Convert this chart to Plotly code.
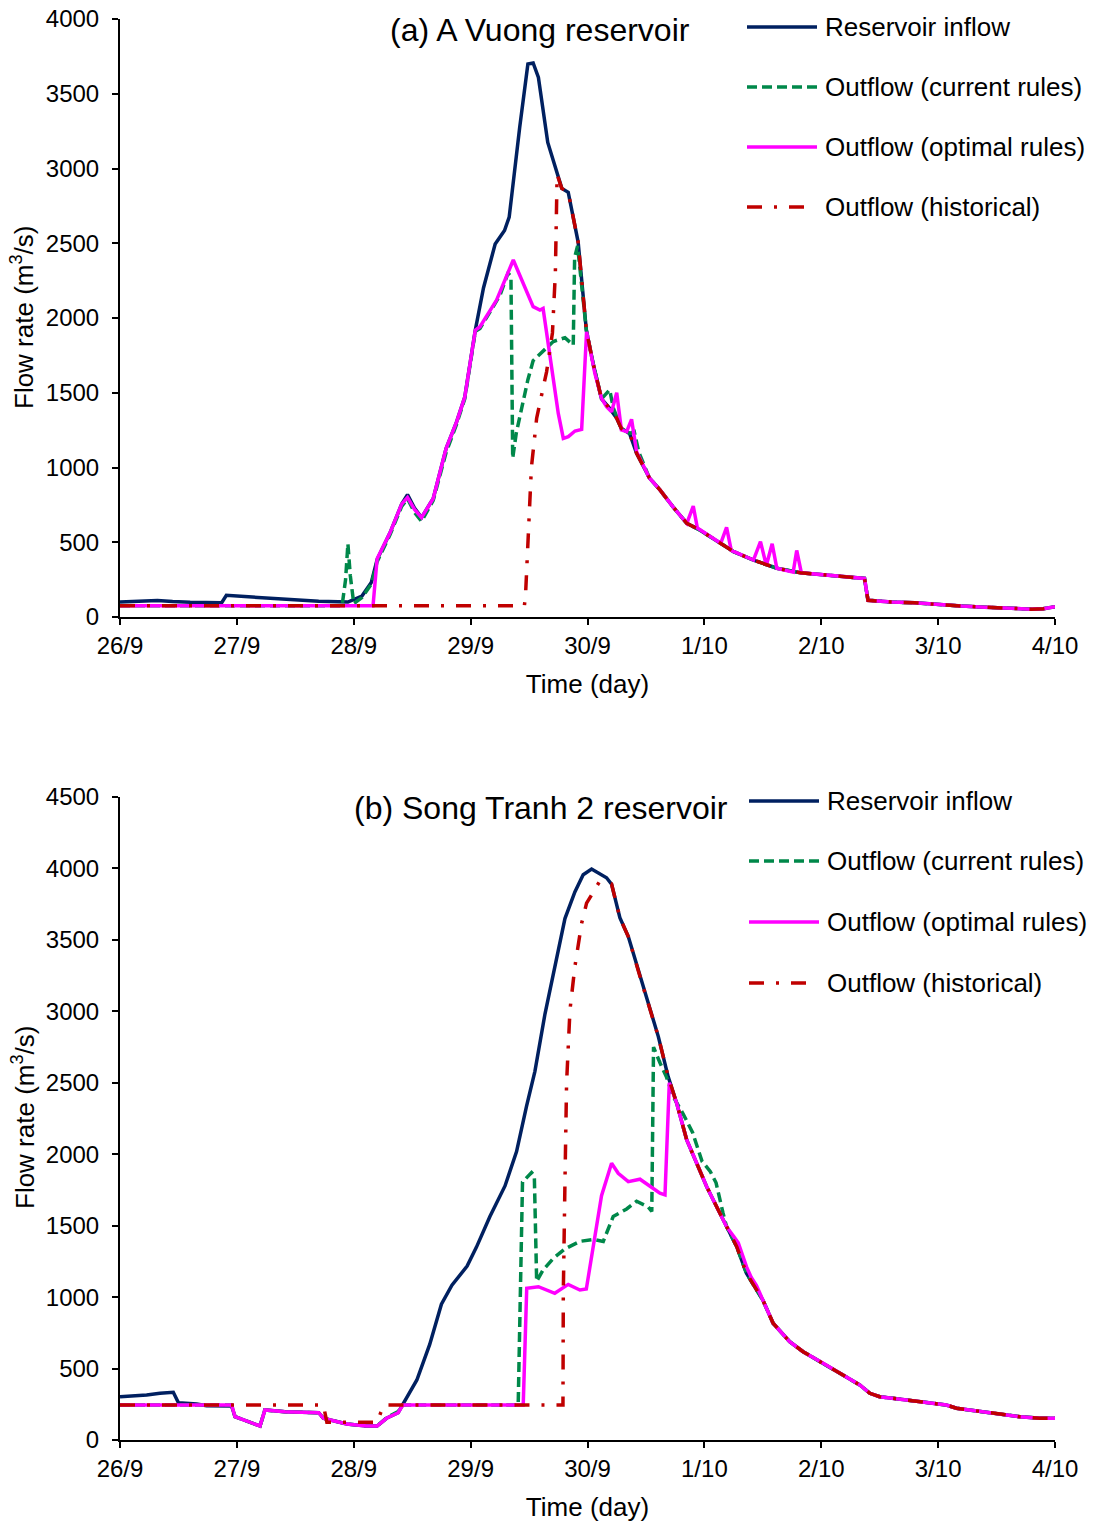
import plotly.graph_objects as go

# ------------------------------------------------------------
# Data (x = days since 26/9 00:00, y = flow rate m3/s)
# ------------------------------------------------------------
day_labels = ["26/9", "27/9", "28/9", "29/9", "30/9", "1/10", "2/10", "3/10", "4/10"]

# (a) A Vuong reservoir
a_tail_days = [4.62, 4.73, 4.85, 4.96, 5.14, 5.25, 5.42, 5.62, 5.82, 6.05, 6.37, 6.40,
               6.60, 6.80, 7.00, 7.20, 7.40, 7.60, 7.80, 7.90, 8.00]
a_tail_flow = [850, 738, 627, 582, 493, 437, 381, 326, 296, 280, 258, 112,
               100, 95, 82, 73, 66, 58, 52, 55, 68]

a_inflow_days = [0, 0.15, 0.32, 0.45, 0.60, 0.87, 0.91, 1.10, 1.40, 1.70, 1.95, 2.07, 2.15,
                 2.20, 2.31, 2.41, 2.46, 2.52, 2.58, 2.68, 2.79, 2.88, 2.95, 3.04, 3.11,
                 3.21, 3.29, 3.33, 3.42, 3.49, 3.535, 3.58, 3.66, 3.74, 3.78, 3.835, 3.92,
                 3.99, 4.05, 4.12, 4.19, 4.25, 4.29, 4.36, 4.42, 4.53]
a_inflow_flow = [100, 103, 110, 103, 98, 95, 145, 135, 120, 105, 100, 140, 230,
                 384, 563, 755, 819, 729, 665, 793, 1126, 1305, 1471, 1919, 2201,
                 2495, 2585, 2675, 3276, 3699, 3706, 3609, 3174, 2970, 2867, 2841, 2508,
                 1919, 1689, 1459, 1395, 1330, 1260, 1228, 1095, 930]

a_current_days = [0, 1.90, 1.93, 1.95, 1.97, 2.00, 2.07, 2.15, 2.20, 2.31, 2.41, 2.46, 2.52,
                  2.58, 2.68, 2.79, 2.88, 2.95, 3.04, 3.08, 3.25, 3.32, 3.345, 3.36, 3.39,
                  3.49, 3.535, 3.607, 3.707, 3.807, 3.878, 3.89, 3.915, 3.99, 4.05, 4.12,
                  4.19, 4.22, 4.29, 4.36, 4.40, 4.44, 4.53]
a_current_flow = [75, 75, 250, 490, 280, 90, 130, 220, 370, 550, 740, 790, 700,
                  640, 780, 1100, 1290, 1460, 1910, 1930, 2150, 2300, 2280, 1062, 1228,
                  1587, 1715, 1766, 1843, 1868, 1818, 2405, 2482, 1919, 1689, 1459,
                  1520, 1400, 1260, 1228, 1240, 1100, 930]

a_optimal_days = [0, 2.165, 2.20, 2.31, 2.41, 2.46, 2.52, 2.58, 2.68, 2.79, 2.88, 2.95, 3.04,
                  3.08, 3.222, 3.365, 3.535, 3.593, 3.62, 3.693, 3.75, 3.793, 3.836, 3.893,
                  3.95, 3.992, 4.063, 4.12, 4.163, 4.206, 4.25, 4.29, 4.335, 4.377, 4.42,
                  4.53, 4.62, 4.73, 4.85, 4.905, 4.94, 5.14, 5.19, 5.23, 5.42, 5.48, 5.53,
                  5.58, 5.62, 5.76, 5.79, 5.83]
a_optimal_flow = [75, 75, 390, 563, 755, 800, 720, 665, 793, 1126, 1305, 1471, 1919,
                  1942, 2120, 2388, 2076, 2053, 2064, 1675, 1362, 1195, 1206, 1244,
                  1255, 1908, 1630, 1462, 1407, 1373, 1500, 1251, 1240, 1322, 1106,
                  930, 850, 738, 627, 742, 595, 493, 600, 445, 381, 504, 345,
                  490, 326, 300, 445, 296]

a_hist_days = [0, 3.46, 3.47, 3.49, 3.52, 3.565, 3.65, 3.70, 3.725, 3.74, 3.78, 3.835, 3.92,
               3.99, 4.05, 4.12, 4.19, 4.25, 4.29, 4.36, 4.42, 4.53]
a_hist_flow = [75, 75, 150, 500, 1000, 1330, 1640, 1900, 2300, 2960, 2867, 2841, 2508,
               1919, 1689, 1459, 1395, 1330, 1260, 1228, 1095, 930]

# (b) Song Tranh 2 reservoir
b_tail_days = [5.19, 5.277, 5.36, 5.446, 5.50, 5.588, 5.73, 5.845, 6.017, 6.16, 6.33, 6.416,
               6.50, 6.73, 6.84, 7.07, 7.157, 7.357, 7.50, 7.70, 7.87, 8.00]
b_tail_flow = [1493, 1353, 1167, 1050, 980, 817, 688, 618, 537, 467, 385, 327,
               303, 280, 268, 245, 222, 198, 187, 163, 152, 152]

b_inflow_days = [0, 0.114, 0.228, 0.342, 0.456, 0.50, 0.656, 0.741, 0.955, 0.984, 1.198,
                 1.24, 1.41, 1.70, 1.74, 1.80, 1.94, 2.11, 2.20, 2.28, 2.38, 2.42, 2.54,
                 2.65, 2.75, 2.84, 2.97, 3.05, 3.165, 3.294, 3.393, 3.479, 3.55, 3.636,
                 3.721, 3.807, 3.892, 3.963, 4.035, 4.163, 4.206, 4.277, 4.349, 4.449,
                 4.52, 4.606, 4.69, 4.763, 4.849, 4.935, 5.02, 5.105]
b_inflow_flow = [303, 308, 315, 327, 334, 261, 252, 240, 238, 163, 98,
                 210, 198, 191, 152, 140, 112, 98, 98, 152, 191, 250, 420,
                 669, 950, 1083, 1217, 1350, 1564, 1778, 2018, 2339, 2580, 2981,
                 3328, 3649, 3836, 3956, 3996, 3935, 3890, 3655, 3523, 3243,
                 3057, 2823, 2543, 2357, 2100, 1937, 1773, 1633]

b_current_days = [0, 0.955, 0.984, 1.198, 1.24, 1.41, 1.70, 1.74, 1.80, 1.94, 2.11, 2.20,
                  2.28, 2.38, 2.42, 3.407, 3.444, 3.521, 3.545, 3.565, 3.62, 3.706, 3.806,
                  3.935, 4.05, 4.135, 4.22, 4.335, 4.42, 4.52, 4.55, 4.565, 4.62, 4.676,
                  4.735, 4.82, 4.90, 4.98, 5.05, 5.10, 5.16]
b_current_flow = [245, 245, 163, 98, 210, 198, 191, 152, 140, 112, 98, 98,
                  155, 200, 245, 245, 1805, 1872, 1850, 1110, 1190, 1270, 1337,
                  1390, 1404, 1390, 1564, 1617, 1671, 1631, 1600, 2750, 2640, 2540,
                  2400, 2280, 2150, 1950, 1880, 1800, 1587]

b_optimal_days = [0, 0.955, 0.984, 1.198, 1.24, 1.41, 1.70, 1.74, 1.80, 1.94, 2.11, 2.20,
                  2.28, 2.38, 2.42, 3.45, 3.48, 3.58, 3.72, 3.835, 3.935, 3.99, 4.12,
                  4.206, 4.263, 4.349, 4.449, 4.52, 4.62, 4.663, 4.70, 4.763, 4.849,
                  4.935, 5.02, 5.105, 5.19, 5.25, 5.29, 5.36, 5.40, 5.446]
b_optimal_flow = [245, 245, 163, 98, 210, 198, 191, 152, 140, 112, 98, 98,
                  152, 191, 245, 245, 1062, 1073, 1027, 1089, 1050, 1057, 1710,
                  1937, 1867, 1808, 1825, 1785, 1727, 1715, 2500, 2357, 2100,
                  1937, 1773, 1633, 1493, 1425, 1380, 1213, 1140, 1080]

b_hist_days = [0, 1.74, 1.77, 2.20, 2.23, 2.26, 3.79, 3.793, 3.807, 3.821, 3.85, 3.892,
               3.95, 3.992, 4.10, 4.206, 4.277, 4.349, 4.449, 4.52, 4.606, 4.69, 4.763,
               4.849, 4.935, 5.02, 5.105]
b_hist_flow = [245, 245, 125, 125, 190, 245, 245, 1027, 1797, 2497, 3010, 3313,
               3617, 3757, 3904, 3890, 3655, 3523, 3243, 3057, 2823, 2543, 2357,
               2100, 1937, 1773, 1633]

series_names = ["Reservoir inflow", "Outflow (current rules)",
                "Outflow (optimal rules)", "Outflow (historical)"]


def with_tail(days, flow, tail_days, tail_flow):
    last = days[-1]
    xs = list(days) + [d for d in tail_days if d > last]
    ys = list(flow) + [v for d, v in zip(tail_days, tail_flow) if d > last]
    return xs, ys


# ------------------------------------------------------------
# Styles
# ------------------------------------------------------------
FONT = "Liberation Sans, Arial, sans-serif"
W, H = 1097, 1524
styles = [
    dict(color="#002060", width=3.5, dash="solid"),
    dict(color="#00884A", width=3.5, dash="10px,5px"),
    dict(color="#FF00FF", width=3.5, dash="solid"),
    dict(color="#C00000", width=3.5, dash="15px,12px,3px,12px"),
]


def px_x(p):
    return p / W


def px_y(p):
    return 1 - p / H


fig = go.Figure()

panels = [
    ("x", "y", [
        (a_inflow_days, a_inflow_flow), (a_current_days, a_current_flow),
        (a_optimal_days, a_optimal_flow), (a_hist_days, a_hist_flow)],
     a_tail_days, a_tail_flow),
    ("x2", "y2", [
        (b_inflow_days, b_inflow_flow), (b_current_days, b_current_flow),
        (b_optimal_days, b_optimal_flow), (b_hist_days, b_hist_flow)],
     b_tail_days, b_tail_flow),
]

for xa, ya, series, td, tf in panels:
    for (d, f), name, st in zip(series, series_names, styles):
        xs, ys = with_tail(d, f, td, tf)
        fig.add_trace(go.Scatter(
            x=xs, y=ys, mode="lines", name=name, showlegend=False,
            line=dict(color=st["color"], width=st["width"], dash=st["dash"]),
            xaxis=xa, yaxis=ya,
        ))

# ------------------------------------------------------------
# Axes
# ------------------------------------------------------------
xdom = [px_x(120), px_x(1055)]
common_x = dict(
    domain=xdom, range=[0, 8], tickmode="array", tickvals=list(range(9)),
    ticktext=day_labels, showgrid=False, zeroline=False, showline=True,
    linecolor="black", linewidth=2, ticks="outside", ticklen=6, tickwidth=2,
    tickcolor="black", tickfont=dict(family=FONT, size=24, color="black"),
    ticklabelstandoff=0, ticklabeloverflow="allow", automargin=False,
    title=dict(text="Time (day)", font=dict(family=FONT, size=26, color="black"), standoff=17),
)
common_y = dict(
    showgrid=False, zeroline=False, showline=True, linecolor="black", linewidth=2,
    ticks="outside", ticklen=6, tickwidth=2, tickcolor="black", dtick=500,
    tickfont=dict(family=FONT, size=24, color="black"), ticklabelstandoff=8,
    ticklabeloverflow="allow", automargin=False,
)

fig.update_layout(
    xaxis=dict(common_x, anchor="y"),
    yaxis=dict(common_y, domain=[px_y(617), px_y(19)], range=[0, 4000], anchor="x"),
    xaxis2=dict(common_x, anchor="y2"),
    yaxis2=dict(common_y, domain=[px_y(1440), px_y(797)], range=[0, 4500], anchor="x2"),
)

# ------------------------------------------------------------
# Titles, y-axis titles and legends drawn in pixel positions
# ------------------------------------------------------------
annotations = [
    dict(text="(a) A Vuong reservoir", x=px_x(540), y=px_y(30)),
    dict(text="(b) Song Tranh 2 reservoir", x=px_x(541), y=px_y(808)),
]
for a in annotations:
    a.update(xref="paper", yref="paper", xanchor="center", yanchor="middle",
             showarrow=False, font=dict(family=FONT, size=32, color="black"))

for yc in (318, 1118):
    annotations.append(dict(
        text="Flow rate (m<sup>3</sup>/s)", textangle=-90,
        xref="paper", yref="paper", x=px_x(23), y=px_y(yc),
        xanchor="center", yanchor="middle", showarrow=False,
        font=dict(family=FONT, size=26, color="black"),
    ))

shapes = []
legend_pos = [(747, 823, [27, 87, 147, 207]), (749, 825, [801, 861, 922, 983])]
for x0, xt, ys in legend_pos:
    for name, st, yy in zip(series_names, styles, ys):
        length = 58 if st["dash"].startswith("15px") else 70
        shapes.append(dict(
            type="line", xref="paper", yref="paper",
            x0=px_x(x0), x1=px_x(x0 + length), y0=px_y(yy), y1=px_y(yy),
            line=dict(color=st["color"], width=st["width"], dash=st["dash"]),
        ))
        annotations.append(dict(
            text=name, xref="paper", yref="paper", x=px_x(xt), y=px_y(yy),
            xanchor="left", yanchor="middle", showarrow=False,
            font=dict(family=FONT, size=26, color="black"),
        ))

fig.update_layout(
    width=W, height=H,
    margin=dict(l=0, r=0, t=0, b=0),
    paper_bgcolor="white", plot_bgcolor="white",
    showlegend=False,
    annotations=annotations,
    shapes=shapes,
    font=dict(family=FONT, color="black"),
)

# drop the default 8px page margin so the figure starts at the window corner
fig.write_html("out.html", config={"displayModeBar": False},
               post_script="document.body.style.margin = '0';")
